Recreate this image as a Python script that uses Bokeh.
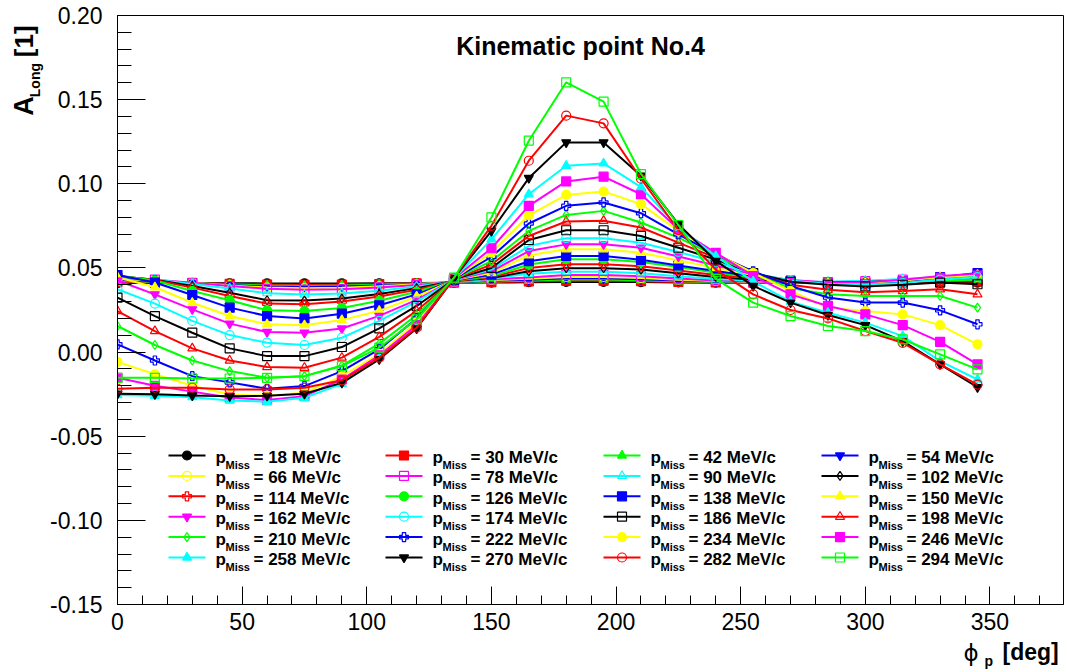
import math
from bokeh.plotting import figure
from bokeh.layouts import row, column
from bokeh.models import Label, FixedTicker, PrintfTickFormatter, Range1d
from bokeh.embed import file_html
from bokeh.resources import INLINE

# ---------------- data ----------------
phi = [0, 15, 30, 45, 60, 75, 90, 105, 120, 135, 150, 165, 180, 195, 210, 225, 240, 255, 270, 285, 300, 315, 330, 345]
pmiss = [18, 30, 42, 54, 66, 78, 90, 102, 114, 126, 138, 150, 162, 174, 186, 198, 210, 222, 234, 246, 258, 270, 282, 294]

s018 = [0.0410, 0.0410, 0.0410, 0.0409, 0.0408, 0.0408, 0.0408, 0.0409, 0.0410, 0.0412, 0.0413, 0.0415, 0.0417, 0.0417, 0.0416, 0.0414, 0.0412, 0.0411, 0.0410, 0.0410, 0.0410, 0.0410, 0.0411, 0.0412]
s030 = [0.0416, 0.0414, 0.0410, 0.0405, 0.0401, 0.0400, 0.0401, 0.0404, 0.0408, 0.0413, 0.0416, 0.0420, 0.0424, 0.0424, 0.0421, 0.0417, 0.0414, 0.0412, 0.0411, 0.0411, 0.0412, 0.0414, 0.0417, 0.0420]
s042 = [0.0422, 0.0418, 0.0410, 0.0401, 0.0395, 0.0393, 0.0395, 0.0400, 0.0406, 0.0414, 0.0420, 0.0425, 0.0431, 0.0431, 0.0427, 0.0421, 0.0416, 0.0413, 0.0412, 0.0413, 0.0415, 0.0419, 0.0424, 0.0430]
s054 = [0.0428, 0.0422, 0.0410, 0.0398, 0.0389, 0.0386, 0.0389, 0.0396, 0.0405, 0.0415, 0.0424, 0.0430, 0.0438, 0.0438, 0.0433, 0.0425, 0.0419, 0.0415, 0.0413, 0.0414, 0.0418, 0.0425, 0.0435, 0.0445]
s066 = [0.0434, 0.0426, 0.0412, 0.0396, 0.0383, 0.0379, 0.0382, 0.0391, 0.0403, 0.0416, 0.0428, 0.0436, 0.0446, 0.0446, 0.0440, 0.0430, 0.0422, 0.0417, 0.0414, 0.0415, 0.0420, 0.0428, 0.0438, 0.0447]
s078 = [0.0440, 0.0430, 0.0412, 0.0392, 0.0376, 0.0370, 0.0373, 0.0384, 0.0399, 0.0418, 0.0432, 0.0443, 0.0458, 0.0458, 0.0450, 0.0437, 0.0426, 0.0419, 0.0415, 0.0416, 0.0421, 0.0430, 0.0442, 0.0452]
s090 = [0.0445, 0.0432, 0.0405, 0.0378, 0.0350, 0.0342, 0.0348, 0.0365, 0.0390, 0.0420, 0.0436, 0.0465, 0.0478, 0.0478, 0.0468, 0.0450, 0.0434, 0.0424, 0.0418, 0.0418, 0.0424, 0.0434, 0.0446, 0.0456]
s102 = [0.0450, 0.0430, 0.0393, 0.0353, 0.0308, 0.0306, 0.0318, 0.0345, 0.0380, 0.0422, 0.0440, 0.0480, 0.0498, 0.0498, 0.0490, 0.0468, 0.0446, 0.0430, 0.0420, 0.0415, 0.0416, 0.0424, 0.0434, 0.0442]
s114 = [0.0452, 0.0428, 0.0383, 0.0333, 0.0288, 0.0284, 0.0300, 0.0330, 0.0370, 0.0423, 0.0445, 0.0500, 0.0522, 0.0522, 0.0510, 0.0485, 0.0458, 0.0438, 0.0422, 0.0412, 0.0412, 0.0420, 0.0432, 0.0444]
s126 = [0.0455, 0.0425, 0.0363, 0.0308, 0.0248, 0.0244, 0.0262, 0.0305, 0.0358, 0.0425, 0.0450, 0.0520, 0.0552, 0.0552, 0.0535, 0.0505, 0.0472, 0.0445, 0.0422, 0.0408, 0.0406, 0.0416, 0.0432, 0.0448]
s138 = [0.0458, 0.0413, 0.0339, 0.0264, 0.0214, 0.0200, 0.0228, 0.0278, 0.0343, 0.0427, 0.0460, 0.0540, 0.0571, 0.0571, 0.0548, 0.0515, 0.0482, 0.0450, 0.0424, 0.0406, 0.0404, 0.0420, 0.0445, 0.0470]
s150 = [0.0445, 0.0385, 0.0293, 0.0214, 0.0165, 0.0160, 0.0190, 0.0245, 0.0330, 0.0428, 0.0470, 0.0575, 0.0611, 0.0611, 0.0590, 0.0545, 0.0500, 0.0458, 0.0426, 0.0410, 0.0410, 0.0425, 0.0445, 0.0460]
s162 = [0.0425, 0.0343, 0.0254, 0.0169, 0.0119, 0.0115, 0.0140, 0.0215, 0.0310, 0.0430, 0.0480, 0.0600, 0.0640, 0.0640, 0.0620, 0.0568, 0.0515, 0.0462, 0.0428, 0.0414, 0.0414, 0.0430, 0.0452, 0.0466]
s174 = [0.0373, 0.0288, 0.0185, 0.0101, 0.0056, 0.0042, 0.0085, 0.0185, 0.0300, 0.0431, 0.0490, 0.0630, 0.0677, 0.0677, 0.0650, 0.0595, 0.0535, 0.0468, 0.0425, 0.0405, 0.0400, 0.0410, 0.0430, 0.0445]
s186 = [0.0323, 0.0214, 0.0115, 0.0022, -0.0024, -0.0024, 0.0030, 0.0141, 0.0274, 0.0432, 0.0500, 0.0666, 0.0724, 0.0724, 0.0690, 0.0620, 0.0550, 0.0470, 0.0418, 0.0400, 0.0390, 0.0400, 0.0413, 0.0403]
s198 = [0.0244, 0.0125, 0.0022, -0.0050, -0.0089, -0.0093, -0.0033, 0.0090, 0.0245, 0.0433, 0.0520, 0.0690, 0.0776, 0.0780, 0.0740, 0.0650, 0.0560, 0.0472, 0.0400, 0.0370, 0.0355, 0.0363, 0.0373, 0.0343]
s210 = [0.0155, 0.0042, -0.0050, -0.0113, -0.0153, -0.0143, -0.0080, 0.0050, 0.0220, 0.0434, 0.0540, 0.0720, 0.0815, 0.0839, 0.0770, 0.0680, 0.0570, 0.0465, 0.0380, 0.0343, 0.0333, 0.0333, 0.0333, 0.0264]
s222 = [0.0046, -0.0050, -0.0143, -0.0180, -0.0218, -0.0202, -0.0113, 0.0016, 0.0200, 0.0435, 0.0565, 0.0764, 0.0869, 0.0889, 0.0825, 0.0700, 0.0580, 0.0480, 0.0393, 0.0324, 0.0294, 0.0294, 0.0248, 0.0165]
s234 = [-0.0058, -0.0132, -0.0200, -0.0252, -0.0260, -0.0242, -0.0143, -0.0010, 0.0175, 0.0436, 0.0591, 0.0813, 0.0934, 0.0954, 0.0879, 0.0720, 0.0585, 0.0470, 0.0363, 0.0264, 0.0244, 0.0224, 0.0160, 0.0046]
s246 = [-0.0153, -0.0200, -0.0235, -0.0270, -0.0285, -0.0262, -0.0163, -0.0020, 0.0160, 0.0437, 0.0617, 0.0869, 0.1014, 0.1042, 0.0938, 0.0730, 0.0590, 0.0452, 0.0343, 0.0274, 0.0224, 0.0160, 0.0061, -0.0073]
s258 = [-0.0255, -0.0260, -0.0268, -0.0288, -0.0295, -0.0272, -0.0188, -0.0035, 0.0145, 0.0438, 0.0670, 0.0938, 0.1107, 0.1121, 0.0980, 0.0740, 0.0570, 0.0420, 0.0300, 0.0234, 0.0175, 0.0095, -0.0054, -0.0163]
s270 = [-0.0248, -0.0250, -0.0258, -0.0262, -0.0260, -0.0248, -0.0183, -0.0043, 0.0140, 0.0439, 0.0720, 0.1034, 0.1246, 0.1246, 0.1048, 0.0760, 0.0542, 0.0393, 0.0294, 0.0220, 0.0160, 0.0065, -0.0073, -0.0209]
s282 = [-0.0218, -0.0212, -0.0212, -0.0222, -0.0222, -0.0212, -0.0168, -0.0033, 0.0145, 0.0440, 0.0750, 0.1137, 0.1405, 0.1359, 0.1030, 0.0725, 0.0490, 0.0343, 0.0250, 0.0200, 0.0125, 0.0055, -0.0073, -0.0193]
s294 = [-0.0153, -0.0153, -0.0157, -0.0157, -0.0153, -0.0143, -0.0083, 0.0026, 0.0195, 0.0442, 0.0800, 0.1256, 0.1603, 0.1488, 0.1058, 0.0755, 0.0435, 0.0294, 0.0214, 0.0155, 0.0125, 0.0075, -0.0014, -0.0103]

series = [s018, s030, s042, s054, s066, s078, s090, s102, s114, s126, s138, s150,
          s162, s174, s186, s198, s210, s222, s234, s246, s258, s270, s282, s294]

x_ticks = [0, 50, 100, 150, 200, 250, 300, 350]
y_ticks = [-0.15, -0.10, -0.05, 0.0, 0.05, 0.10, 0.15, 0.20]

# ---------------- styles ----------------
palette = ["#000000", "#ff0000", "#00ff00", "#0000ff", "#ffff00", "#ff00ff", "#00ffff"]
marker_cycle = [("circle", True), ("square", True), ("triangle", True), ("inverted_triangle", True),
                ("circle", False), ("square", False), ("triangle", False), ("diamond", False), ("plus", False)]

FONT = "Liberation Sans"
PAGE_W, PAGE_H = 1067, 672
STRIP_W = 45          # left strip holding the y title
MAIN_H = 638          # height of the main figure (x title strip below)
X0, X1 = 0, 379.5
Y0, Y1 = -0.15, 0.20
FL, FR, FT, FB = 117, 1063, 15, 604   # frame on the page (px)


def dx(px):
    return X0 + (px - FL) / (FR - FL) * (X1 - X0)


def dy(py):
    return Y1 - (py - FT) / (FB - FT) * (Y1 - Y0)


p = figure(width=PAGE_W - STRIP_W, height=MAIN_H, output_backend="svg", toolbar_location=None,
           x_range=Range1d(X0, X1), y_range=Range1d(Y0, Y1),
           min_border_left=FL - STRIP_W, min_border_right=PAGE_W - FR,
           min_border_top=FT, min_border_bottom=MAIN_H - FB)
p.background_fill_color = "white"
p.border_fill_color = "white"
p.outline_line_color = "black"
p.outline_line_width = 1
p.xgrid.grid_line_color = None
p.ygrid.grid_line_color = None

p.xaxis.ticker = FixedTicker(ticks=x_ticks, minor_ticks=list(range(0, 380, 10)))
p.yaxis.ticker = FixedTicker(ticks=y_ticks, minor_ticks=[round(-0.15 + 0.01 * k, 2) for k in range(36)])
p.yaxis.formatter = PrintfTickFormatter(format="%.2f")
for ax in (p.xaxis, p.yaxis):
    ax.axis_line_color = "black"
    ax.major_tick_line_color = "black"
    ax.minor_tick_line_color = "black"
    ax.major_tick_out = 0
    ax.minor_tick_out = 0
    ax.major_label_text_font = FONT
    ax.major_label_text_font_size = "23px"
    ax.major_label_text_color = "black"
p.yaxis.major_tick_in = 28
p.yaxis.minor_tick_in = 14
p.xaxis.major_tick_in = 18
p.xaxis.minor_tick_in = 9
p.yaxis.major_label_standoff = 15
p.xaxis.major_label_standoff = 8


def style(i):
    color = palette[i % 7]
    mk, filled = marker_cycle[i % 9]
    return color, mk, filled


def draw_marker(xs, ys, i, size=9):
    color, mk, filled = style(i)
    p.scatter(xs, ys, marker=mk, size=size, line_color=color, line_width=1.2,
              fill_color=color, fill_alpha=1.0 if filled else 0.0)


def lab(fig, x, y, text, size, bold=True, align="left", angle=0.0, font=FONT, baseline="alphabetic"):
    fig.add_layout(Label(x=x, y=y, text=text, text_font=font, text_font_size=size,
                         text_font_style="bold" if bold else "normal", text_align=align,
                         text_baseline=baseline, text_color="black", angle=angle))


# ---------------- series ----------------
for i, ys in enumerate(series):
    color, mk, filled = style(i)
    p.line(phi, ys, line_color=color, line_width=2)
    draw_marker(phi, ys, i)

# ---------------- legend ----------------
col_px = [215, 432, 650, 868]
for i, pm in enumerate(pmiss):
    r, c = i // 4, i % 4
    ry = 455 + 20.4 * r
    tx = col_px[c]
    color, mk, filled = style(i)
    p.line([dx(tx - 47), dx(tx - 10)], [dy(ry), dy(ry)], line_color=color, line_width=2)
    draw_marker([dx(tx - 28.5)], [dy(ry)], i)
    lab(p, dx(tx), dy(ry + 2), "p", "17px")
    lab(p, dx(tx + 10), dy(ry + 9.5), "Miss", "11px")
    lab(p, dx(tx + 38), dy(ry + 2), "= %d MeV/c" % pm, "17px")

# ---------------- title ----------------
lab(p, dx(580), dy(45), "Kinematic point No.4", "25px", align="center")


def strip(w, h):
    f = figure(width=w, height=h, output_backend="svg", toolbar_location=None,
               x_range=Range1d(0, w), y_range=Range1d(0, h),
               x_axis_type=None, y_axis_type=None, min_border=0)
    f.outline_line_color = None
    f.background_fill_color = "white"
    f.border_fill_color = "white"
    f.xgrid.grid_line_color = None
    f.ygrid.grid_line_color = None
    return f


# ---------------- y axis title (rotated, left strip; page coords, centred pieces) ----------------
ystrip = strip(STRIP_W, MAIN_H)
rot = math.pi / 2
lab(ystrip, 23, MAIN_H - 98, "A", "27px", angle=rot, align="center", baseline="middle")
lab(ystrip, 34.5, MAIN_H - 70, "Long", "14px", angle=rot, align="center", baseline="middle")
lab(ystrip, 23, MAIN_H - 28, "[1]", "26px", angle=rot, align="center", baseline="middle")

# ---------------- x axis title (bottom strip; page coords) ----------------
XS_H = PAGE_H - MAIN_H
xstrip = strip(PAGE_W, XS_H)
lab(xstrip, 963, PAGE_H - 652, "\u03d5", "23px", bold=False, font="DejaVu Sans")
lab(xstrip, 984, PAGE_H - 660, "p", "14px")
lab(xstrip, 1002, PAGE_H - 651, "[deg]", "23px")

layout = column(row(ystrip, p), xstrip)
open("out.html", "w").write(file_html(layout, INLINE))
